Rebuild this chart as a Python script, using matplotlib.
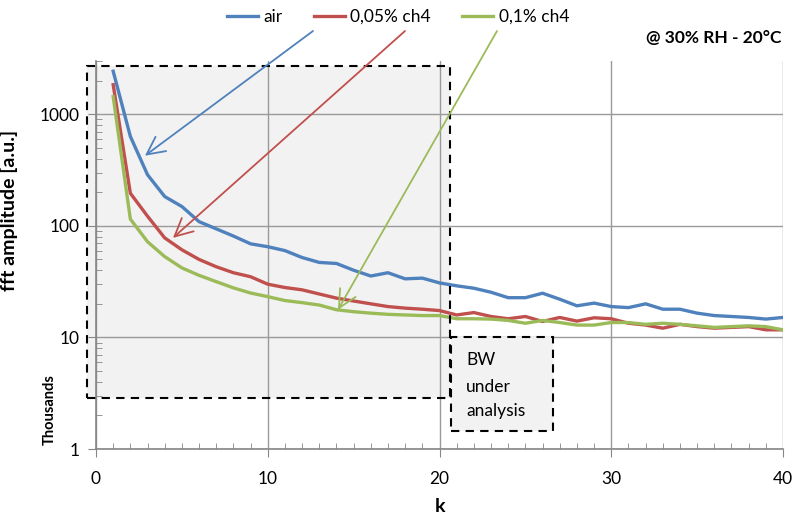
import matplotlib
matplotlib.use("Agg")
import matplotlib.pyplot as plt
from matplotlib.patches import Rectangle
from matplotlib.ticker import FixedLocator, NullFormatter
import numpy as np

plt.rcParams['font.family'] = ['Lato', 'DejaVu Sans']

k = np.arange(1, 41)
air = [2430, 633, 287, 183, 149, 109, 94, 81, 69, 65,
       60, 52, 47, 46, 40, 35.5, 38, 33.5, 34, 30.8,
       29, 27.6, 25.4, 22.7, 22.7, 24.9, 22, 19.2, 20.3, 18.9,
       18.5, 20, 17.9, 17.9, 16.5, 15.7, 15.4, 15.1, 14.6, 15.1]
ch4_005 = [1840, 196, 122, 78, 61, 50, 43, 38, 35, 30,
           28, 26.7, 24.5, 22.5, 21.2, 20, 18.9, 18.3, 17.9, 17.4,
           15.9, 16.7, 15.4, 14.7, 15.4, 13.9, 15.1, 14, 15, 14.7,
           13.4, 12.9, 12.1, 13.1, 12.5, 12.1, 12.3, 12.5, 11.7, 11.7]
ch4_01 = [1440, 115, 72, 53, 42, 36, 31.6, 27.8, 25, 23.2,
          21.4, 20.5, 19.5, 17.7, 17, 16.5, 16.1, 15.9, 15.7, 15.7,
          14.7, 14.7, 14.6, 14.2, 13.4, 14.2, 13.6, 12.9, 12.9, 13.6,
          13.6, 13.1, 13.4, 13.1, 12.7, 12.3, 12.5, 12.7, 12.5, 11.7]

labels = ['air', '0,05% ch4', '0,1% ch4']
colors = ['#4F81BD', '#C0504D', '#9BBB59']

fig = plt.figure(figsize=(7.96, 5.18), dpi=100)
ax = fig.add_axes([0.1206, 0.1332, 0.8631, 0.749])

for y, lab, c in zip([air, ch4_005, ch4_01], labels, colors):
    ax.plot(k, y, color=c, lw=2.4, label=lab, zorder=3, solid_joinstyle='round')

ax.set_yscale('log')
ax.set_xlim(0, 40)
ax.set_ylim(1, 3000)

ax.xaxis.set_major_locator(FixedLocator([0, 10, 20, 30, 40]))
ax.xaxis.set_minor_locator(FixedLocator(np.arange(0, 41)))
ax.yaxis.set_major_locator(FixedLocator([1, 10, 100, 1000]))
ax.yaxis.set_minor_locator(FixedLocator([m * 10 ** e for e in range(4) for m in range(2, 10) if m * 10 ** e <= 3000]))
ax.yaxis.set_minor_formatter(NullFormatter())
ax.set_yticklabels(['1', '10', '100', '1000'])

ax.tick_params(which='major', direction='out', length=6, color='#868686', labelsize=12.5, pad=6)
ax.tick_params(which='minor', direction='in', length=4, color='#868686')
ax.tick_params(axis='x', which='major', pad=10)
for s in ['top', 'right']:
    ax.spines[s].set_visible(False)
for s in ['left', 'bottom']:
    ax.spines[s].set_color('#868686')
    ax.spines[s].set_linewidth(1.2)

ax.grid(True, which='major', color='#9a9a9a', lw=1)
ax.set_axisbelow(True)

ax.set_xlabel('k', fontsize=14, fontweight='bold', labelpad=8)
ax.set_ylabel('fft amplitude [a.u.]', fontsize=14, fontweight='bold')
ax.yaxis.set_label_coords(-0.113, 0.616)
fig.text(0.063, 0.21, 'Thousands', rotation=90, fontsize=10.5, fontweight='bold', ha='center', va='center')

# shaded region
ax.add_patch(Rectangle((-0.5, 2.87), 21.1, 2720 - 2.87, facecolor='#f2f2f2', edgecolor='none',
                       zorder=0.2, clip_on=False))
ax.add_patch(Rectangle((-0.5, 2.87), 21.1, 2720 - 2.87, facecolor='none', edgecolor='black',
                       lw=1.5, ls=(0, (4, 3)), zorder=4, clip_on=False))
ax.add_patch(Rectangle((20.65, 1.45), 5.95, 10 - 1.45, facecolor='#f2f2f2', edgecolor='black',
                       lw=1.5, ls=(0, (4, 3)), zorder=4, clip_on=False))
for txt, yv in zip(['BW', 'under', 'analysis'], [6.28, 3.6, 2.19]):
    ax.text(21.55, yv, txt, fontsize=12.5, va='center', ha='left', zorder=5)

# arrows
tips = [(2.85, 425), (4.48, 78), (14.09, 17.7)]
tails = [(313, 487), (405, 487), (497, 487)]
for tip, tail, c in zip(tips, tails, colors):
    ax.annotate('', xy=tip, xycoords='data', xytext=tail, textcoords='figure pixels',
                arrowprops=dict(arrowstyle='->', color=c, lw=1.3, mutation_scale=32, shrinkA=0, shrinkB=0),
                zorder=5)

ax.legend(loc='center', bbox_to_anchor=(0.5, 0.967), bbox_transform=fig.transFigure, ncol=3,
          frameon=False, fontsize=12.5, handlelength=1.8, handletextpad=0.3, columnspacing=1.8)
fig.text(0.982, 0.927, '@ 30% RH - 20°C', fontsize=12.5, fontweight='bold', ha='right', va='center')

fig.savefig('out.png', dpi=100)
